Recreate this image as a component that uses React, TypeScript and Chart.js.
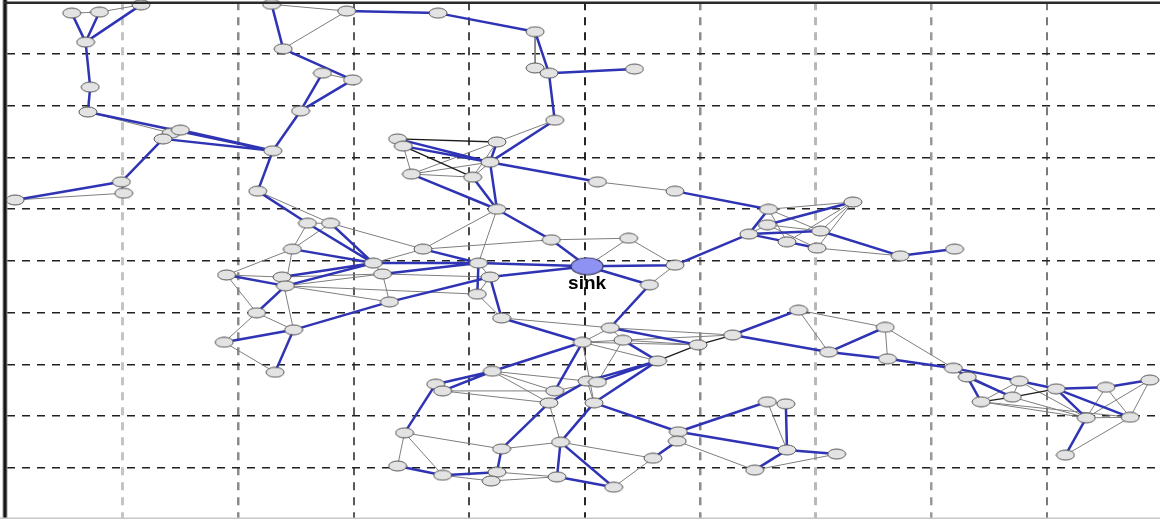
import { useEffect, useRef } from 'react';
import { Chart, registerables } from 'chart.js';

Chart.register(...registerables);

// ---- data (grid units: x 0..10 left→right, y 0..10 top→bottom) ----
const nodeIds = [
  'A1','A2','A3','A4','A5','A6','A7a','A7b','A8','A9','A10','A11','A12','A13','A14','A15','A16','A17','A18','A19',
  'B1','B2','B3','B4','B5','B6',
  'C1','C2','C3','C4','C5','C6','C7','C8','C9',
  'D1','D2','D3','D4','D5','D6','D7','D8','D9',
  'E1','E2','E3','E4','E5','E7','E8','E9','E10','E11','E12','E13','E14','E15','E16','E17','E18','E19','E20',
  'I1','I2',
  'F5','F6','F8','F9','F10','F11','F12','F13','F15','F16','F17','F18','F19','F20','F21','F22','F23','F24','F25','F26','F27','F28','F29','F30','F31','F32','F33','F35',
  'G1','G2','G3','G4','G5','G6','G7','G8',
  'H1','H2','H3','H4','H5','H6','H7','H8','H9','H10','H11',
];
const nodeX = [
  0.56,0.80,1.16,0.68,0.72,0.70,1.42,1.50,1.35,2.30,0.99,1.01,0.07,2.29,2.94,2.39,2.73,2.99,2.54,2.17,
  3.73,4.57,4.57,4.69,5.43,4.74,
  3.38,3.43,4.24,4.18,3.50,4.03,4.24,5.11,5.78,
  6.59,7.32,6.58,7.04,6.42,6.75,7.01,7.73,8.20,
  2.60,2.80,2.47,3.60,3.17,1.90,2.38,2.41,3.25,4.08,4.18,4.07,3.31,2.16,2.48,1.88,2.32,4.28,4.20,
  4.71,5.38,
  5.78,5.56,5.22,4.98,5.33,5.98,6.28,5.63,3.71,3.77,5.02,5.11,4.74,4.69,5.08,3.44,4.28,4.79,3.38,3.77,4.24,4.19,4.76,5.25,5.59,5.81,5.80,6.58,
  6.85,7.60,7.11,7.62,6.74,6.75,7.18,6.47,
  8.19,8.31,8.76,8.70,8.43,9.08,9.51,9.89,9.34,9.72,9.16,
];
const nodeY = [
  0.21,0.19,0.05,0.77,1.64,2.12,2.53,2.47,2.64,2.87,3.47,3.69,3.82,0.04,0.17,0.90,1.37,1.50,2.10,3.65,
  0.21,0.57,1.27,1.37,1.29,2.28,
  2.64,2.78,2.70,3.09,3.32,3.38,4.00,3.47,3.65,
  4.00,3.86,4.30,4.42,4.48,4.63,4.75,4.90,4.77,
  4.27,4.27,4.77,4.77,5.04,5.27,5.31,5.48,5.25,5.04,5.31,5.64,5.79,6.00,6.33,6.57,7.15,6.10,7.13,
  4.59,4.56,
  5.08,5.46,6.29,6.57,6.53,6.62,6.43,6.93,7.38,7.51,7.32,7.34,7.51,7.74,7.74,8.32,8.63,8.50,8.96,9.14,9.08,9.25,9.17,9.37,8.81,8.30,8.48,7.72,
  5.95,6.28,6.76,6.89,7.76,8.65,8.73,9.04,
  7.07,7.24,7.32,7.63,7.72,7.47,7.44,7.30,8.03,8.02,8.75,
];
const sinkLabel = 'sink';
const sinkX = [5.02];
const sinkY = [5.10];

const blueEdges: [string, string][] = [
  ['A1','A4'],['A2','A4'],['A3','A4'],['A4','A5'],['A5','A6'],['A6','A9'],['A7b','A9'],['A8','A9'],['A8','A10'],['A10','A12'],
  ['A9','A18'],['A9','A19'],['A18','A16'],['A18','A17'],['A15','A17'],['A13','A15'],['A14','B1'],['B1','B2'],['B2','B4'],['B4','B5'],['B4','B6'],
  ['B6','C4'],['C1','C4'],['C2','C4'],['C3','C4'],['C4','C7'],['C6','C7'],['C5','C7'],['C4','C8'],['C9','D1'],['D1','D5'],['D3','D2'],['D5','D4'],['D5','D6'],['D6','D7'],['D4','D8'],['D8','D9'],['F5','D5'],
  ['A19','E1'],['E1','E5'],['E2','E5'],['E3','E5'],['E8','E5'],['E9','E5'],['E7','E9'],['E4','E11'],['E5','E11'],['E10','E11'],['E14','E12'],['E9','E15'],['E16','E17'],['E16','E18'],['E16','E14'],['E11','E13'],['E12','E19'],
  ['C7','I1'],['I1','S'],['S','E11'],['S','E12'],['S','F5'],['S','F6'],['F6','F8'],['E19','F9'],['F8','F11'],['F10','F13'],['F12','G1'],['F12','G3'],['G3','G2'],['G3','G4'],['G4','H1'],['H1','H2'],['H1','H3'],['H2','H5'],['H2','H4'],['H3','H6'],['H6','H7'],['H7','H8'],['H6','H9'],['H6','H10'],['H9','H11'],
  ['F9','E20'],['E20','F15'],['E20','F16'],['F15','F22'],['F9','F19'],['F13','F17'],['F13','F18'],['F13','F21'],['F20','F17'],['F25','F26'],['F26','F27'],['F23','F27'],['F23','F20'],['F24','F21'],['F24','F29'],['F24','F30'],['F29','F30'],['F31','F33'],['F21','F32'],['F32','F35'],['F32','G6'],['G6','G8'],['G6','G7'],['G5','G6'],
];
const grayEdges: [string, string][] = [
  ['A1','A2'],['A2','A3'],['A6','A7a'],['A7a','A7b'],['A11','A12'],['A10','A11'],['A13','A14'],['A14','A15'],['A16','A17'],
  ['B3','B4'],['B2','B3'],['B6','C3'],['C1','C2'],['C2','C5'],['C5','C4'],['C5','C3'],['C5','C6'],['C6','C4'],['C6','C3'],['C8','C9'],['C7','E4'],['C7','E11'],['I1','I2'],['I1','E4'],['I2','F5'],['I2','S'],
  ['D1','D2'],['D1','D4'],['D2','D4'],['D2','D7'],['D2','D6'],['D3','D4'],['D3','D7'],['D5','D3'],['D7','D8'],['D1','D6'],
  ['A19','E2'],['E1','E3'],['E2','E3'],['E2','E4'],['E3','E7'],['E3','E9'],['E7','E8'],['E9','E10'],['E8','E10'],['E5','E10'],['E5','E4'],['E10','E12'],['E10','E14'],['E14','E9'],['E7','E15'],['E15','E16'],['E15','E17'],['E17','E18'],['E8','E16'],['E11','E12'],['E12','E13'],['E13','E19'],['E9','E13'],['E1','E2'],
  ['F5','F6'],['E19','F8'],['F8','F9'],['F8','F10'],['F9','F10'],['F9','F11'],['F10','F11'],['F9','F13'],['F10','F12'],['F8','F12'],
  ['E20','F17'],['E20','F19'],['F16','F19'],['F16','F20'],['F19','F18'],['F21','F17'],['F9','F21'],['F10','F18'],['E20','F20'],
  ['F22','F23'],['F22','F26'],['F22','F25'],['F23','F24'],['F20','F24'],['F28','F26'],['F28','F29'],['F27','F29'],['F24','F31'],['F30','F31'],['F33','G8'],['F35','G6'],['G7','G8'],['F32','F33'],['F35','G5'],
  ['G1','G2'],['G1','G3'],['G2','G4'],['G2','H1'],['H1','H4'],['H5','H3'],['H5','H9'],['H4','H9'],['H3','H9'],['H8','H9'],['H8','H10'],['H7','H9'],['H7','H10'],['H9','H10'],['H10','H11'],['H3','H4'],['H5','H10'],
];
const darkEdges: [string, string][] = [
  ['C1','C3'],['C2','C6'],['F11','F13'],['F11','F12'],['H5','H4'],['H4','H6'],
];
const gridValues = [1, 2, 3, 4, 5, 6, 7, 8, 9];

// styles
const vGridColors = ['#c4c4c4', '#8a8a8a', '#5a5a5a', '#4a4a4a', '#262626', '#8c8c8c', '#b8b8b8', '#9a9a9a', '#7a7a7a'];
const vGridWidths = [3, 2.5, 2, 2, 2, 2.5, 3, 2.5, 2];
const BLUE = '#2f34b4';

function makeEllipse(w: number, h: number, fill: string, stroke: string, lw: number) {
  const c = document.createElement('canvas');
  c.width = w + 2;
  c.height = h + 2;
  const g = c.getContext('2d')!;
  g.beginPath();
  g.ellipse(c.width / 2, c.height / 2, w / 2, h / 2, 0, 0, Math.PI * 2);
  g.fillStyle = fill;
  g.fill();
  g.lineWidth = lw;
  g.strokeStyle = stroke;
  g.stroke();
  return c;
}

export default function App() {
  const ref = useRef<HTMLCanvasElement>(null);

  useEffect(() => {
    document.body.style.margin = '0';
    const canvas = ref.current!;
    const pos: Record<string, { x: number; y: number }> = {};
    nodeIds.forEach((id, i) => { pos[id] = { x: nodeX[i], y: nodeY[i] }; });
    pos['S'] = { x: sinkX[0], y: sinkY[0] };

    const edgeData = (list: [string, string][]) => {
      const out: { x: number; y: number }[] = [];
      list.forEach(([a, b]) => {
        out.push(pos[a], pos[b], { x: NaN, y: NaN });
      });
      return out;
    };

    const nodeImg = makeEllipse(18, 10, '#e3e3e3', '#555', 1);
    const sinkImg = makeEllipse(32, 17, '#8d92f3', '#3a3a5a', 1.2);

    const framePlugin = {
      id: 'frame',
      afterDatasetsDraw(chart: any) {
        const { ctx, chartArea, width, height } = chart;
        ctx.save();
        ctx.fillStyle = '#999';
        ctx.fillRect(chartArea.left - 4.5, 0, 5, height);
        ctx.fillStyle = '#151515';
        ctx.fillRect(chartArea.left - 3.5, 0, 3, height);
        ctx.fillStyle = '#2a2a2a';
        ctx.fillRect(chartArea.left - 3, 1.5, width, 2.5);
        ctx.fillStyle = '#c8c8c8';
        ctx.fillRect(0, height - 1.5, width, 1.5);
        // sink label
        const sx = chart.scales.x.getPixelForValue(sinkX[0]);
        const sy = chart.scales.y.getPixelForValue(sinkY[0]);
        ctx.fillStyle = '#000';
        ctx.font = 'bold 19px "Liberation Sans", Arial, sans-serif';
        ctx.textAlign = 'center';
        ctx.textBaseline = 'middle';
        ctx.fillText(sinkLabel, sx, sy + 18);
        ctx.restore();
      },
    };

    const lineDs = (label: string, data: any[], color: string, width: number, order: number) => ({
      type: 'scatter' as const,
      label,
      data,
      showLine: true,
      spanGaps: false,
      borderColor: color,
      borderWidth: width,
      pointRadius: 0,
      pointHoverRadius: 0,
      tension: 0,
      order,
      clip: false as any,
    });

    const chart = new Chart(canvas, {
      type: 'scatter',
      data: {
        datasets: [
          {
            label: 'nodes',
            data: nodeIds.map((id) => pos[id]),
            pointStyle: nodeImg as any,
            pointRadius: 5,
            pointHoverRadius: 5,
            order: 0,
            clip: false as any,
          },
          {
            label: 'sink',
            data: [pos['S']],
            pointStyle: sinkImg as any,
            pointRadius: 8,
            pointHoverRadius: 8,
            order: 0,
            clip: false as any,
          },
          lineDs('dark', edgeData(darkEdges), '#1c1c1c', 1.3, 1),
          lineDs('blue', edgeData(blueEdges), BLUE, 2.5, 2),
          lineDs('gray', edgeData(grayEdges), '#7e7e7e', 1, 3),
        ] as any,
      },
      options: {
        responsive: false,
        devicePixelRatio: 1,
        animation: false,
        events: [],
        layout: { autoPadding: false, padding: { left: 7, top: 2.25, right: 0, bottom: 0 } },
        plugins: { legend: { display: false }, tooltip: { enabled: false } },
        scales: {
          x: {
            type: 'linear',
            min: 0,
            max: 9.978,
            ticks: { display: false },
            grid: {
              drawTicks: false,
              color: (c: any) => vGridColors[c.index] ?? '#888',
              lineWidth: (c: any) => vGridWidths[c.index] ?? 2,
            },
            border: { display: false, dash: [8, 7] },
            afterBuildTicks: (s: any) => { s.ticks = gridValues.map((v) => ({ value: v })); },
          },
          y: {
            type: 'linear',
            reverse: true,
            min: 0,
            max: 9.985,
            ticks: { display: false },
            grid: { drawTicks: false, color: '#202020', lineWidth: 1.6 },
            border: { display: false, dash: [8, 7] },
            afterBuildTicks: (s: any) => { s.ticks = gridValues.map((v) => ({ value: v })); },
          },
        },
      },
      plugins: [framePlugin],
    });
    return () => chart.destroy();
  }, []);

  return (
    <div style={{ width: 1160, height: 519, background: '#fff' }}>
      <canvas ref={ref} width={1160} height={519} style={{ display: 'block' }} />
    </div>
  );
}
